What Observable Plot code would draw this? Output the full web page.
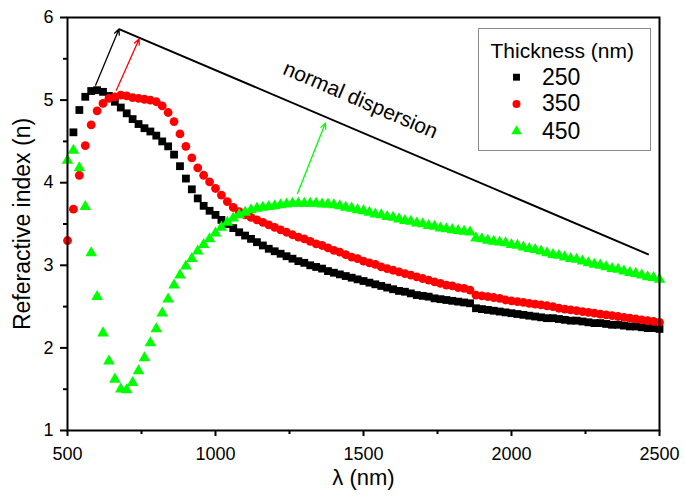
<!DOCTYPE html>
<html>
<head>
<meta charset="utf-8">
<script src="https://cdn.jsdelivr.net/npm/d3@7"></script>
<script src="https://cdn.jsdelivr.net/npm/@observablehq/plot@0.6"></script>
<style>
  html, body { margin: 0; padding: 0; background: #fff; }
  #chart { width: 685px; height: 496px; }
</style>
</head>
<body>
<div id="chart"></div>
<script>
// ---------- data ----------
const wavelength = [500,520,540,560,580,600,620,640,660,680,700,720,740,760,780,800,820,840,860,880,
  900,920,940,960,980,1000,1020,1040,1060,1080,1100,1120,1140,1160,1180,1200,1220,1240,1260,1280,
  1300,1320,1340,1360,1380,1400,1420,1440,1460,1480,1500,1520,1540,1560,1580,1600,1620,1640,1660,1680,
  1700,1720,1740,1760,1780,1800,1820,1840,1860,1880,1900,1920,1940,1960,1980,2000,2020,2040,2060,2080,
  2100,2120,2140,2160,2180,2200,2220,2240,2260,2280,2300,2320,2340,2360,2380,2400,2420,2440,2460,2480,2500];

const n250 = [null,4.61,4.88,5.04,5.11,5.12,5.10,5.05,4.98,4.91,4.84,4.77,4.71,4.66,4.62,4.57,4.50,4.44,4.34,4.20,
  4.05,3.92,3.81,3.72,3.66,3.61,3.55,3.50,3.45,3.40,3.36,3.32,3.28,3.24,3.20,3.17,3.14,3.11,3.08,3.05,
  3.03,3.00,2.98,2.96,2.93,2.91,2.89,2.87,2.85,2.83,2.81,2.79,2.77,2.75,2.73,2.71,2.69,2.68,2.66,2.64,
  2.63,2.62,2.60,2.59,2.58,2.57,2.56,2.55,2.54,2.48,2.47,2.46,2.45,2.44,2.43,2.42,2.41,2.40,2.39,2.38,
  2.37,2.36,2.36,2.35,2.34,2.33,2.33,2.32,2.31,2.30,2.30,2.29,2.28,2.28,2.27,2.26,2.26,2.25,2.24,2.24,2.23];

const n350 = [3.30,3.68,4.09,4.45,4.70,4.87,4.96,5.02,5.04,5.06,5.05,5.03,5.02,5.01,5.00,4.98,4.93,4.85,4.74,4.59,
  4.44,4.30,4.18,4.09,4.01,3.93,3.85,3.77,3.70,3.65,3.61,3.58,3.55,3.52,3.49,3.46,3.43,3.40,3.37,3.34,
  3.32,3.29,3.26,3.24,3.21,3.18,3.16,3.13,3.10,3.08,3.05,3.03,3.01,2.98,2.96,2.94,2.92,2.90,2.88,2.86,
  2.84,2.82,2.80,2.78,2.76,2.75,2.73,2.72,2.70,2.64,2.63,2.62,2.61,2.60,2.58,2.57,2.56,2.55,2.54,2.53,
  2.52,2.51,2.50,2.48,2.47,2.46,2.45,2.44,2.43,2.42,2.41,2.40,2.39,2.38,2.37,2.36,2.35,2.34,2.33,2.32,2.31];

const n450 = [4.27,4.39,4.18,3.71,3.15,2.62,2.18,1.84,1.62,1.50,1.49,1.58,1.72,1.88,2.06,2.23,2.42,2.59,2.76,2.88,
  2.99,3.08,3.17,3.25,3.32,3.39,3.46,3.52,3.57,3.61,3.64,3.67,3.69,3.70,3.71,3.72,3.73,3.74,3.75,3.75,
  3.75,3.75,3.75,3.74,3.74,3.73,3.72,3.70,3.69,3.67,3.66,3.64,3.62,3.61,3.59,3.58,3.56,3.54,3.53,3.51,
  3.50,3.48,3.47,3.45,3.44,3.43,3.42,3.41,3.40,3.33,3.32,3.30,3.29,3.28,3.27,3.25,3.24,3.22,3.20,3.19,
  3.17,3.15,3.13,3.12,3.10,3.08,3.07,3.05,3.03,3.01,3.00,2.98,2.96,2.95,2.93,2.91,2.90,2.88,2.86,2.85,2.83];

const seriesNames = ["250", "350", "450"];
const seriesColors = ["#000000", "#ff0000", "#00ff00"];
const seriesSymbols = ["square", "circle", "triangle"];
const seriesRadius = [4.4, 4.4, 4.3];

const xTicks = [500, 1000, 1500, 2000, 2500];
const xMinorTicks = [750, 1250, 1750, 2250];
const yTicks = [1, 2, 3, 4, 5, 6];
const yMinorTicks = [1.5, 2.5, 3.5, 4.5, 5.5];

const xLabel = "λ (nm)";
const yLabel = "Referactive index (n)";
const legendTitle = "Thickness (nm)";

// annotation: normal dispersion line and arrows (data units)
const dispersionX = [674, 2464];
const dispersionY = [5.86, 3.13];
const dispersionText = "normal dispersion";
const dispersionTextPos = [1490, 5.0];
const arrowX1 = [595, 665, 1277];
const arrowY1 = [5.18, 5.12, 3.87];
const arrowX2 = [674, 742, 1371];
const arrowY2 = [5.86, 5.74, 4.72];
const arrowColors = ["#000000", "#ff0000", "#00ff00"];

// ---------- build ----------
const seriesValues = [n250, n350, n450];
const seriesRows = seriesValues.map((vals, s) =>
  wavelength.map((w, i) => ({w, n: vals[i], s: seriesNames[s]})).filter(d => d.n != null)
);
const arrows = arrowX1.map((x1, i) => ({x1, y1: arrowY1[i], x2: arrowX2[i], y2: arrowY2[i], c: arrowColors[i]}));

const font = "'Liberation Sans', Arial, Helvetica, sans-serif";

const marks = [];
// series points
seriesRows.forEach((rows, s) => {
  marks.push(Plot.dot(rows, {x: "w", y: "n", symbol: () => seriesSymbols[s], r: seriesRadius[s], fill: seriesColors[s], stroke: "none"}));
});
// dispersion line and arrows
marks.push(Plot.link([{x1: dispersionX[0], y1: dispersionY[0], x2: dispersionX[1], y2: dispersionY[1]}],
  {x1: "x1", y1: "y1", x2: "x2", y2: "y2", stroke: "#000", strokeWidth: 2}));
arrows.forEach(a => {
  marks.push(Plot.arrow([a], {x1: "x1", y1: "y1", x2: "x2", y2: "y2", stroke: a.c, strokeWidth: 1.3, headLength: 7, headAngle: 50}));
});
marks.push(Plot.text([dispersionText], {x: () => dispersionTextPos[0], y: () => dispersionTextPos[1], rotate: 23.2, fontSize: 21, fill: "#000", textAnchor: "middle", lineAnchor: "middle"}));

// axes
marks.push(Plot.axisX(xTicks, {tickSize: 6, tickPadding: 11, strokeWidth: 2, fontSize: 18, label: null, tickFormat: d => String(d)}));
marks.push(Plot.axisX(xMinorTicks, {tickSize: 4, strokeWidth: 2, fill: "none", label: null}));
marks.push(Plot.axisY(yTicks, {tickSize: 7, tickPadding: 7, strokeWidth: 2, fontSize: 18, label: null, tickFormat: d => String(d)}));
marks.push(Plot.axisY(yMinorTicks, {tickSize: 4, strokeWidth: 2, fill: "none", label: null}));
marks.push(Plot.frame({stroke: "#000", strokeWidth: 2}));

// axis titles
marks.push(Plot.text([xLabel], {frameAnchor: "bottom", dy: 47, fontSize: 22, textAnchor: "middle", lineAnchor: "middle", fill: "#000"}));
marks.push(Plot.text([yLabel], {frameAnchor: "left", dx: -45, rotate: -90, fontSize: 23, textAnchor: "middle", lineAnchor: "middle", fill: "#000"}));

// legend
marks.push(Plot.frame({stroke: "#8c8c8c", strokeWidth: 1, insetLeft: 411, insetTop: 11, insetRight: 9, insetBottom: 280}));
marks.push(Plot.text([legendTitle], {frameAnchor: "top-left", dx: 423, dy: 33.5, fontSize: 21, textAnchor: "start", lineAnchor: "middle", fill: "#000"}));
const legendDy = [59.7, 86.5, 113.8];
const legendR = [3.9, 4.0, 3.9];
seriesNames.forEach((name, s) => {
  marks.push(Plot.dot([name], {frameAnchor: "top-left", dx: 449, dy: legendDy[s], symbol: () => seriesSymbols[s], r: legendR[s], fill: seriesColors[s], stroke: "none"}));
  marks.push(Plot.text([name], {frameAnchor: "top-left", dx: 474.5, dy: legendDy[s], fontSize: 23, textAnchor: "start", lineAnchor: "middle", fill: "#000"}));
});

const chart = Plot.plot({
  width: 685,
  height: 496,
  marginLeft: 67,
  marginRight: 26,
  marginTop: 17,
  marginBottom: 66,
  x: {domain: [500, 2500]},
  y: {domain: [1, 6]},
  symbol: {type: "identity"},
  style: {fontFamily: font, fontSize: "18px", color: "#000", background: "#fff", overflow: "visible"},
  marks
});
document.getElementById("chart").appendChild(chart);
</script>
</body>
</html>
